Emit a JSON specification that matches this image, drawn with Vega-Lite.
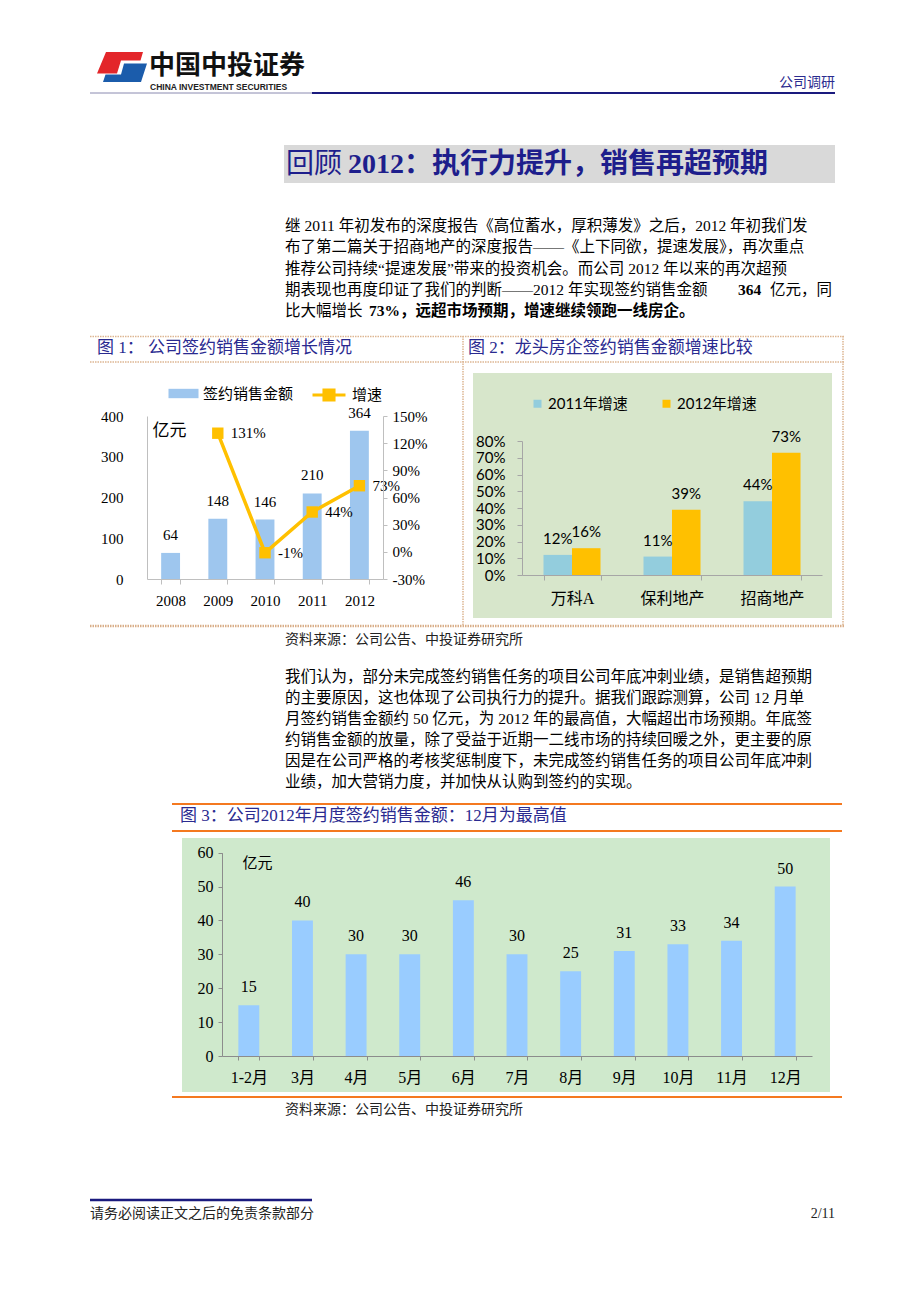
{
  "$schema": "https://vega.github.io/schema/vega-lite/v6.json",
  "background": "white",
  "padding": {"left": 88, "top": 40, "right": 0, "bottom": 0},
  "bounds": "flush",
  "spacing": 0,
  "resolve": {"scale": {"color": "independent"}, "legend": {"color": "independent"}},
  "config": {
    "view": {"stroke": null},
    "axis": {"grid": false, "labelColor": "#000000", "titleColor": "#000000", "zindex": 1},
    "legend": {"padding": 0}
  },
  "vconcat": [
    {
      "width": 745,
      "height": 105,
      "layer": [
        {"data": {"values": [{"part": "logo-red"}]}, "mark": {"type": "point", "shape": "M-0.62,-0.62L0.86,-0.62L0.76,-0.28L-0.02,-0.28L-0.18,0.24L-0.98,0.24Z", "size": 2500, "filled": true, "color": "#E3262A", "opacity": 1}, "encoding": {"x": {"value": 31.5}, "y": {"value": 27.5}}},
        {"data": {"values": [{"part": "logo-blue"}]}, "mark": {"type": "point", "shape": "M0.1,-0.16L1.02,-0.16L0.78,0.58L-0.74,0.58L-0.64,0.28L-0.02,0.28Z", "size": 2500, "filled": true, "color": "#1B5CAB", "opacity": 1}, "encoding": {"x": {"value": 31.5}, "y": {"value": 27.5}}},
        {"data": {"values": [{"label": "中国中投证券"}]}, "mark": {"type": "text", "align": "left", "baseline": "middle", "font": "Noto Sans CJK SC", "fontSize": 26, "fontWeight": "bold", "color": "#111111"}, "encoding": {"text": {"field": "label"}, "x": {"value": 59}, "y": {"value": 26}}},
        {"data": {"values": [{"label": "CHINA INVESTMENT SECURITIES"}]}, "mark": {"type": "text", "align": "left", "baseline": "middle", "font": "Liberation Sans", "fontSize": 8.5, "fontWeight": "bold", "color": "#222222"}, "encoding": {"text": {"field": "label"}, "x": {"value": 60}, "y": {"value": 47}}},
        {"data": {"values": [{"label": "公司调研"}]}, "mark": {"type": "text", "align": "right", "baseline": "middle", "font": "Noto Sans CJK SC", "fontSize": 14, "color": "#2B2B8F"}, "encoding": {"text": {"field": "label"}, "x": {"value": 745}, "y": {"value": 43}}},
        {"data": {"values": [{}]}, "mark": {"type": "rule", "color": "#8A8AB0", "strokeWidth": 1}, "encoding": {"x": {"value": 0}, "x2": {"value": 222}, "y": {"value": 53}}},
        {"data": {"values": [{}]}, "mark": {"type": "rule", "color": "#1A1A7E", "strokeWidth": 2}, "encoding": {"x": {"value": 222}, "x2": {"value": 745}, "y": {"value": 53}}}
      ]
    },
    {
      "width": 745,
      "height": 191,
      "data": {"values": [
        {"line": 1, "seg": "a", "text": "继 2011 年初发布的深度报告《高位蓄水，厚积薄发》之后，2012 年初我们发"},
        {"line": 2, "seg": "a", "text": "布了第二篇关于招商地产的深度报告——《上下同欲，提速发展》，再次重点"},
        {"line": 3, "seg": "a", "text": "推荐公司持续“提速发展”带来的投资机会。而公司 2012 年以来的再次超预"},
        {"line": 4, "seg": "a", "text": "期表现也再度印证了我们的判断——2012 年实现签约销售金额"},
        {"line": 4, "seg": "b4", "text": "364"},
        {"line": 4, "seg": "c4", "text": "亿元，同"},
        {"line": 5, "seg": "a", "text": "比大幅增长"},
        {"line": 5, "seg": "b5", "text": "73%，远超市场预期，增速继续领跑一线房企。"}
      ]},
      "layer": [
        {"data": {"values": [{}]}, "mark": {"type": "rect", "color": "#D9D9D9"}, "encoding": {"x": {"value": 194}, "x2": {"value": 745}, "y": {"value": 0}, "y2": {"value": 38}}},
        {"data": {"values": [{"label": "回顾"}]}, "mark": {"type": "text", "align": "left", "baseline": "middle", "font": "Liberation Serif, Noto Sans CJK SC", "fontSize": 28, "color": "#1E1E8C"}, "encoding": {"text": {"field": "label"}, "x": {"value": 196}, "y": {"value": 20}}},
        {"data": {"values": [{"label": "2012：执行力提升，销售再超预期"}]}, "mark": {"type": "text", "align": "left", "baseline": "middle", "font": "Liberation Serif, Noto Sans CJK SC", "fontSize": 28, "fontWeight": "bold", "color": "#1E1E8C"}, "encoding": {"text": {"field": "label"}, "x": {"value": 258}, "y": {"value": 20}}},
        {"transform": [{"filter": "datum.seg === 'a'"}], "mark": {"type": "text", "align": "left", "baseline": "middle", "font": "Liberation Serif, Noto Sans CJK SC", "fontSize": 15.5, "color": "#000000"}, "encoding": {"text": {"field": "text"}, "x": {"value": 195}, "y": {"field": "line", "type": "quantitative", "scale": {"domain": [1, 5], "range": [81, 166.3], "nice": false, "zero": false}, "axis": null}}},
        {"transform": [{"filter": "datum.seg === 'b4'"}], "mark": {"type": "text", "align": "left", "baseline": "middle", "font": "Liberation Serif, Noto Sans CJK SC", "fontSize": 15.5, "fontWeight": "bold", "color": "#000000"}, "encoding": {"text": {"field": "text"}, "x": {"value": 648}, "y": {"field": "line", "type": "quantitative", "scale": {"domain": [1, 5], "range": [81, 166.3], "nice": false, "zero": false}, "axis": null}}},
        {"transform": [{"filter": "datum.seg === 'c4'"}], "mark": {"type": "text", "align": "left", "baseline": "middle", "font": "Liberation Serif, Noto Sans CJK SC", "fontSize": 15.5, "color": "#000000"}, "encoding": {"text": {"field": "text"}, "x": {"value": 680}, "y": {"field": "line", "type": "quantitative", "scale": {"domain": [1, 5], "range": [81, 166.3], "nice": false, "zero": false}, "axis": null}}},
        {"transform": [{"filter": "datum.seg === 'b5'"}], "mark": {"type": "text", "align": "left", "baseline": "middle", "font": "Liberation Serif, Noto Sans CJK SC", "fontSize": 15.5, "fontWeight": "bold", "color": "#000000"}, "encoding": {"text": {"field": "text"}, "x": {"value": 279}, "y": {"field": "line", "type": "quantitative", "scale": {"domain": [1, 5], "range": [81, 166.3], "nice": false, "zero": false}, "axis": null}}}
      ]
    },
    {
      "width": 755,
      "height": 292,
      "layer": [
        {"data": {"values": [{}]}, "mark": {"type": "rule", "color": "#DDB692", "strokeWidth": 1.5, "strokeDash": [1.5, 1]}, "encoding": {"x": {"value": 0}, "x2": {"value": 755}, "y": {"value": 0.5}}},
        {"data": {"values": [{}]}, "mark": {"type": "rule", "color": "#DDB692", "strokeWidth": 1.5, "strokeDash": [1.5, 1]}, "encoding": {"x": {"value": 0}, "x2": {"value": 755}, "y": {"value": 26}}},
        {"data": {"values": [{}]}, "mark": {"type": "rule", "color": "#D9AE88", "strokeWidth": 2.5, "strokeDash": [1.5, 1]}, "encoding": {"x": {"value": 0}, "x2": {"value": 755}, "y": {"value": 290}}},
        {"data": {"values": [{}]}, "mark": {"type": "rule", "color": "#DDB692", "strokeWidth": 1.5, "strokeDash": [1.5, 1]}, "encoding": {"x": {"value": 373}, "y": {"value": 0}, "y2": {"value": 290}}},
        {"data": {"values": [{}]}, "mark": {"type": "rule", "color": "#DDB692", "strokeWidth": 1.5, "strokeDash": [1.5, 1]}, "encoding": {"x": {"value": 753}, "y": {"value": 0}, "y2": {"value": 290}}},
        {"data": {"values": [{"label": "图 1：  公司签约销售金额增长情况"}]}, "mark": {"type": "text", "align": "left", "baseline": "middle", "font": "Liberation Serif, Noto Sans CJK SC", "fontSize": 17, "color": "#2A2A90"}, "encoding": {"text": {"field": "label"}, "x": {"value": 7}, "y": {"value": 12}}},
        {"data": {"values": [{"label": "图 2：龙头房企签约销售金额增速比较"}]}, "mark": {"type": "text", "align": "left", "baseline": "middle", "font": "Liberation Serif, Noto Sans CJK SC", "fontSize": 17, "color": "#2A2A90"}, "encoding": {"text": {"field": "label"}, "x": {"value": 378}, "y": {"value": 12}}},
        {"data": {"values": [{}]}, "mark": {"type": "rect", "color": "#D7E6CB"}, "encoding": {"x": {"value": 383}, "x2": {"value": 742}, "y": {"value": 37}, "y2": {"value": 282}}},
        {
          "layer": [
            {
              "data": {"values": [
                {"year": "2008", "sales": 64, "growth": null, "glabel": ""},
                {"year": "2009", "sales": 148, "growth": 1.31, "glabel": "131%"},
                {"year": "2010", "sales": 146, "growth": -0.01, "glabel": "-1%"},
                {"year": "2011", "sales": 210, "growth": 0.44, "glabel": "44%"},
                {"year": "2012", "sales": 364, "growth": 0.73, "glabel": "73%"}
              ]},
              "encoding": {
                "x": {"field": "year", "type": "ordinal", "scale": {"range": [57, 293], "paddingInner": 0.6, "paddingOuter": 0.3}, "axis": {"orient": "bottom", "offset": -49, "title": null, "domainColor": "#BFBFBF", "tickColor": "#BFBFBF", "tickSize": 5, "tickBand": "extent", "labelFont": "Liberation Serif", "labelFontSize": 15, "labelPadding": 9, "labelAngle": 0, "zindex": 1}},
                "y": {"field": "sales", "type": "quantitative", "scale": {"domain": [0, 400], "range": [243, 80], "nice": false}, "axis": {"orient": "left", "offset": -57, "values": [0, 100, 200, 300, 400], "ticks": false, "domainColor": "#BFBFBF", "labelFont": "Liberation Serif", "labelFontSize": 15, "labelPadding": 24, "title": "亿元", "titleAngle": 0, "titleX": 5, "titleY": 94, "titleAlign": "left", "titleBaseline": "middle", "titleFont": "Noto Sans CJK SC", "titleFontSize": 17, "titleFontWeight": "normal", "zindex": 1}}
              },
              "layer": [
                {"mark": {"type": "bar"}, "encoding": {"color": {"datum": "签约销售金额", "type": "nominal", "scale": {"range": ["#9EC6EE"]}, "legend": {"orient": "none", "legendX": 84, "legendY": 48, "title": null, "symbolType": "M-1.6,-0.5L1.6,-0.5L1.6,0.5L-1.6,0.5Z", "symbolSize": 352, "symbolStrokeWidth": 0, "labelOffset": 10, "labelFont": "Liberation Serif, Noto Sans CJK SC", "labelFontSize": 15, "labelColor": "#000000", "padding": 0}}}},
                {"mark": {"type": "text", "dy": -18, "baseline": "middle", "font": "Liberation Serif", "fontSize": 15, "color": "#000000"}, "encoding": {"text": {"field": "sales"}}}
              ]
            },
            {
              "data": {"values": [
                {"year": "2008", "sales": 64, "growth": null, "glabel": ""},
                {"year": "2009", "sales": 148, "growth": 1.31, "glabel": "131%"},
                {"year": "2010", "sales": 146, "growth": -0.01, "glabel": "-1%"},
                {"year": "2011", "sales": 210, "growth": 0.44, "glabel": "44%"},
                {"year": "2012", "sales": 364, "growth": 0.73, "glabel": "73%"}
              ]},
              "transform": [{"filter": "datum.growth != null"}],
              "encoding": {
                "x": {"field": "year", "type": "ordinal", "scale": {"range": [57, 293], "paddingInner": 0.6, "paddingOuter": 0.3}, "axis": {"orient": "bottom", "offset": -49, "title": null, "domainColor": "#BFBFBF", "tickColor": "#BFBFBF", "tickSize": 5, "tickBand": "extent", "labelFont": "Liberation Serif", "labelFontSize": 15, "labelPadding": 9, "labelAngle": 0, "zindex": 1}},
                "y": {"field": "growth", "type": "quantitative", "scale": {"domain": [-0.3, 1.5], "range": [243, 80], "nice": false, "zero": false}, "axis": {"orient": "right", "offset": -462, "values": [-0.3, 0, 0.3, 0.6, 0.9, 1.2, 1.5], "format": ".0%", "labelExpr": "replace(datum.label, '−', '-')", "domainColor": "#BFBFBF", "tickColor": "#BFBFBF", "tickSize": 4, "labelPadding": 5, "labelFont": "Liberation Serif", "labelFontSize": 15, "title": null, "zindex": 1}}
              },
              "layer": [
                {"mark": {"type": "line", "color": "#FFC000", "strokeWidth": 3.5}},
                {"mark": {"type": "point", "shape": "square", "filled": true, "size": 130, "opacity": 1}, "encoding": {"color": {"datum": "增速", "type": "nominal", "scale": {"range": ["#FFC000"]}, "legend": {"orient": "none", "legendX": 228, "legendY": 48, "title": null, "symbolType": "M-1.8,0L1.8,0M-0.55,-0.55L0.55,-0.55L0.55,0.55L-0.55,0.55Z", "symbolSize": 336, "symbolStrokeColor": "#FFC000", "symbolStrokeWidth": 3, "labelOffset": 12, "labelFont": "Liberation Serif, Noto Sans CJK SC", "labelFontSize": 15, "labelColor": "#000000", "padding": 0}}}},
                {"mark": {"type": "text", "align": "left", "baseline": "middle", "dx": 13, "font": "Liberation Serif", "fontSize": 15, "color": "#000000"}, "encoding": {"text": {"field": "glabel"}}}
              ]
            }
          ],
          "resolve": {"scale": {"y": "independent", "color": "independent"}, "axis": {"y": "independent"}, "legend": {"color": "independent"}}
        },
        {
          "data": {"values": [
            {"company": "万科A", "series": "2011年增速", "growth": 0.12},
            {"company": "万科A", "series": "2012年增速", "growth": 0.16},
            {"company": "保利地产", "series": "2011年增速", "growth": 0.11},
            {"company": "保利地产", "series": "2012年增速", "growth": 0.39},
            {"company": "招商地产", "series": "2011年增速", "growth": 0.44},
            {"company": "招商地产", "series": "2012年增速", "growth": 0.73}
          ]},
          "encoding": {
            "x": {"field": "company", "type": "nominal", "sort": ["万科A", "保利地产", "招商地产"], "scale": {"range": [432, 732], "paddingInner": 0.43, "paddingOuter": 0.215}, "axis": {"orient": "bottom", "offset": -53, "title": null, "domainColor": "#A6A6A6", "tickColor": "#A6A6A6", "tickSize": 5, "tickBand": "extent", "labelFont": "Liberation Serif, Noto Sans CJK SC", "labelFontSize": 16, "labelPadding": 10, "labelAngle": 0, "zindex": 1}},
            "xOffset": {"field": "series", "type": "nominal", "sort": ["2011年增速", "2012年增速"], "scale": {"paddingInner": 0, "paddingOuter": 0}},
            "y": {"field": "growth", "type": "quantitative", "scale": {"domain": [0, 0.8], "range": [239, 105], "nice": false}, "axis": {"orient": "left", "offset": -432, "values": [0, 0.1, 0.2, 0.3, 0.4, 0.5, 0.6, 0.7, 0.8], "format": ".0%", "domainColor": "#A6A6A6", "tickColor": "#A6A6A6", "tickSize": 5, "labelPadding": 12, "labelFont": "Lato", "labelFontSize": 15, "title": null, "zindex": 1}}
          },
          "layer": [
            {"mark": {"type": "bar"}, "encoding": {"color": {"field": "series", "type": "nominal", "scale": {"domain": ["2011年增速", "2012年增速"], "range": ["#93CDDD", "#FFC000"]}, "legend": {"orient": "none", "legendX": 440, "legendY": 60, "direction": "horizontal", "title": null, "symbolType": "square", "symbolSize": 64, "symbolStrokeWidth": 0, "labelOffset": 3, "columnPadding": 31, "labelFont": "Lato, Noto Sans CJK SC", "labelFontSize": 15, "labelColor": "#000000", "padding": 0}}}},
            {"mark": {"type": "text", "dy": -16, "baseline": "middle", "font": "Lato", "fontSize": 15, "color": "#000000"}, "encoding": {"text": {"field": "growth", "format": ".0%"}}}
          ]
        }
      ],
      "resolve": {"scale": {"x": "independent", "y": "independent", "color": "independent", "xOffset": "independent"}, "axis": {"x": "independent", "y": "independent"}, "legend": {"color": "independent"}}
    },
    {
      "width": 745,
      "height": 175,
      "data": {"values": [
        {"line": 1, "text": "我们认为，部分未完成签约销售任务的项目公司年底冲刺业绩，是销售超预期"},
        {"line": 2, "text": "的主要原因，这也体现了公司执行力的提升。据我们跟踪测算，公司 12 月单"},
        {"line": 3, "text": "月签约销售金额约 50 亿元，为 2012 年的最高值，大幅超出市场预期。年底签"},
        {"line": 4, "text": "约销售金额的放量，除了受益于近期一二线市场的持续回暖之外，更主要的原"},
        {"line": 5, "text": "因是在公司严格的考核奖惩制度下，未完成签约销售任务的项目公司年底冲刺"},
        {"line": 6, "text": "业绩，加大营销力度，并加快从认购到签约的实现。"}
      ]},
      "layer": [
        {"data": {"values": [{"label": "资料来源：公司公告、中投证券研究所"}]}, "mark": {"type": "text", "align": "left", "baseline": "middle", "font": "Liberation Serif, Noto Sans CJK SC", "fontSize": 14, "color": "#222222"}, "encoding": {"text": {"field": "label"}, "x": {"value": 195}, "y": {"value": 12}}},
        {"mark": {"type": "text", "align": "left", "baseline": "middle", "font": "Liberation Serif, Noto Sans CJK SC", "fontSize": 15.5, "color": "#000000"}, "encoding": {"text": {"field": "text"}, "x": {"value": 195}, "y": {"field": "line", "type": "quantitative", "scale": {"domain": [1, 6], "range": [49, 154], "nice": false, "zero": false}, "axis": null}}}
      ]
    },
    {
      "width": 755,
      "height": 295,
      "layer": [
        {"data": {"values": [{}]}, "mark": {"type": "rule", "color": "#F47920", "strokeWidth": 2}, "encoding": {"x": {"value": 82}, "x2": {"value": 752}, "y": {"value": 1}}},
        {"data": {"values": [{}]}, "mark": {"type": "rule", "color": "#F47920", "strokeWidth": 2}, "encoding": {"x": {"value": 82}, "x2": {"value": 752}, "y": {"value": 28}}},
        {"data": {"values": [{}]}, "mark": {"type": "rule", "color": "#F47920", "strokeWidth": 2}, "encoding": {"x": {"value": 82}, "x2": {"value": 752}, "y": {"value": 294}}},
        {"data": {"values": [{"label": "图 3：公司2012年月度签约销售金额：12月为最高值"}]}, "mark": {"type": "text", "align": "left", "baseline": "middle", "font": "Liberation Serif, Noto Sans CJK SC", "fontSize": 17, "color": "#2A2A90"}, "encoding": {"text": {"field": "label"}, "x": {"value": 90}, "y": {"value": 13}}},
        {"data": {"values": [{}]}, "mark": {"type": "rect", "color": "#CFE9CC"}, "encoding": {"x": {"value": 92}, "x2": {"value": 740}, "y": {"value": 35}, "y2": {"value": 289}}},
        {
          "data": {"values": [
            {"month": "1-2月", "amount": 15},
            {"month": "3月", "amount": 40},
            {"month": "4月", "amount": 30},
            {"month": "5月", "amount": 30},
            {"month": "6月", "amount": 46},
            {"month": "7月", "amount": 30},
            {"month": "8月", "amount": 25},
            {"month": "9月", "amount": 31},
            {"month": "10月", "amount": 33},
            {"month": "11月", "amount": 34},
            {"month": "12月", "amount": 50}
          ]},
          "encoding": {
            "x": {"field": "month", "type": "nominal", "sort": null, "scale": {"range": [132, 722], "paddingInner": 0.61, "paddingOuter": 0.305}, "axis": {"orient": "bottom", "offset": -42, "title": null, "domainColor": "#8C8C8C", "tickColor": "#8C8C8C", "tickSize": 4, "tickBand": "extent", "labelFont": "Liberation Serif, Noto Sans CJK SC", "labelFontSize": 16, "labelPadding": 9, "labelAngle": 0, "zindex": 1}},
            "y": {"field": "amount", "type": "quantitative", "scale": {"domain": [0, 60], "range": [253, 49.7], "nice": false}, "axis": {"orient": "left", "offset": -132, "values": [0, 10, 20, 30, 40, 50, 60], "domainColor": "#8C8C8C", "tickColor": "#8C8C8C", "tickSize": 4, "labelPadding": 5, "labelFont": "Liberation Serif", "labelFontSize": 16, "title": "亿元", "titleAngle": 0, "titleX": 20, "titleY": 59, "titleAlign": "left", "titleBaseline": "middle", "titleFont": "Noto Sans CJK SC", "titleFontSize": 15, "titleFontWeight": "normal", "zindex": 1}}
          },
          "layer": [
            {"mark": {"type": "bar", "color": "#99CCFF"}},
            {"mark": {"type": "text", "dy": -18, "baseline": "middle", "font": "Liberation Serif", "fontSize": 16, "color": "#000000"}, "encoding": {"text": {"field": "amount"}}}
          ]
        }
      ]
    },
    {
      "width": 745,
      "height": 132,
      "layer": [
        {"data": {"values": [{"label": "资料来源：公司公告、中投证券研究所"}]}, "mark": {"type": "text", "align": "left", "baseline": "middle", "font": "Liberation Serif, Noto Sans CJK SC", "fontSize": 14, "color": "#222222"}, "encoding": {"text": {"field": "label"}, "x": {"value": 195}, "y": {"value": 12}}},
        {"data": {"values": [{}]}, "mark": {"type": "rule", "color": "#1A1A7E", "strokeWidth": 2.5}, "encoding": {"x": {"value": 0}, "x2": {"value": 222}, "y": {"value": 102}}},
        {"data": {"values": [{"label": "请务必阅读正文之后的免责条款部分"}]}, "mark": {"type": "text", "align": "left", "baseline": "middle", "font": "Liberation Serif, Noto Sans CJK SC", "fontSize": 14, "color": "#222222"}, "encoding": {"text": {"field": "label"}, "x": {"value": 0}, "y": {"value": 116}}},
        {"data": {"values": [{"label": "2/11"}]}, "mark": {"type": "text", "align": "right", "baseline": "middle", "font": "Liberation Serif", "fontSize": 14, "color": "#222222"}, "encoding": {"text": {"field": "label"}, "x": {"value": 745}, "y": {"value": 116}}}
      ]
    }
  ]
}
